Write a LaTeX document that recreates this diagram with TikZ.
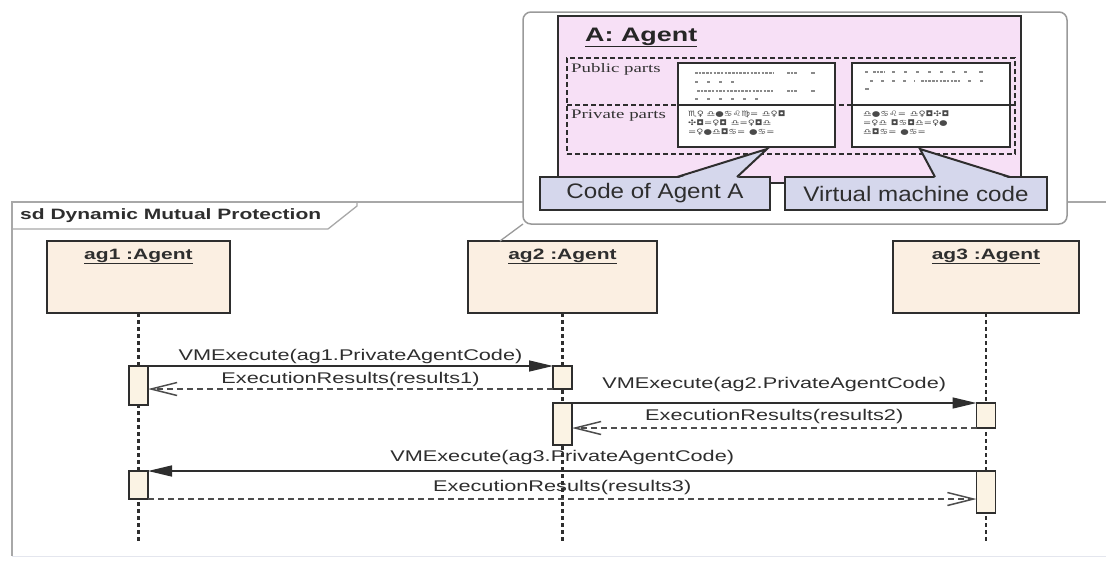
\documentclass[tikz,border=0pt]{standalone}
\usepackage{fontspec}
\setmainfont{Liberation Sans}
\newfontfamily\seqfont[FakeStretch=1.4]{Liberation Sans}
\newfontfamily\notefont[FakeStretch=1.15]{Liberation Sans}
\newfontfamily\headfont[FakeStretch=1.38]{Liberation Sans}
\newfontfamily\partfont[FakeStretch=1.45]{Liberation Serif}
\newfontfamily\glyphfont[FakeStretch=1.3]{DejaVu Sans}
\usetikzlibrary{arrows.meta}

\definecolor{inkC}{HTML}{2E2E2E}
\definecolor{agentfill}{HTML}{FBEFE2}
\definecolor{actfill}{HTML}{FBF3E4}
\definecolor{pinkfill}{HTML}{F7E0F6}
\definecolor{tagfill}{HTML}{D5D7EC}
\definecolor{framegray}{HTML}{A8A8A8}
\definecolor{edgegray}{HTML}{E4E6EE}
\definecolor{notegray}{HTML}{9A9A9A}
\definecolor{phgray}{HTML}{8A8A8A}
\definecolor{glyphgray}{HTML}{4A4A4A}

\tikzset{
  seqframe/.style={draw=framegray, line width=1.3pt},
  agentbox/.style={draw=inkC, fill=agentfill, line width=1.8pt, inner sep=0pt, outer sep=0pt, anchor=north west, minimum height=72pt},
  agentname/.style={anchor=base, font=\seqfont\bfseries\fontsize{15}{18}\selectfont, text=inkC, inner sep=0pt},
  actbox/.style={draw=inkC, fill=actfill, line width=1.5pt, inner sep=0pt, outer sep=0pt, anchor=north, minimum width=19pt},
  lifeline/.style={draw=inkC, line width=2.3pt, dash pattern=on 4pt off 3pt},
  callmsg/.style={draw=inkC, line width=1.5pt, -{Triangle[length=24pt,width=11pt]}},
  replymsg/.style={draw=inkC!85, line width=1.3pt, dash pattern=on 6pt off 4pt, -{Straight Barb[length=26pt,width=13pt,line width=1.5pt]}},
  msglabel/.style={midway, anchor=base, font=\seqfont\fontsize{15.5}{18}\selectfont, text=inkC, inner sep=0pt},
  notebox/.style={draw=notegray, fill=white, line width=1.5pt, rounded corners=8pt, inner sep=0pt, outer sep=0pt, anchor=north west},
  notelink/.style={draw=notegray, line width=1.3pt},
  pinkbox/.style={draw=inkC, fill=pinkfill, line width=2pt, inner sep=0pt, outer sep=0pt, anchor=north west},
  partsbox/.style={draw=inkC, line width=2pt, dash pattern=on 5pt off 3pt, inner sep=0pt, outer sep=0pt, anchor=north west},
  codebox/.style={draw=inkC, fill=white, line width=1.8pt, inner sep=0pt, outer sep=0pt, anchor=north west, minimum height=84pt},
  partname/.style={anchor=base west, font=\partfont\fontsize{13}{15}\selectfont, text=black!80, inner sep=0pt},
  placeholder/.style={draw=phgray, line width=1.1pt},
  glyphrow/.style={anchor=base west, font=\glyphfont\fontsize{7.5}{9}\selectfont, text=glyphgray, inner sep=0pt},
  tagbox/.style={draw=inkC, fill=tagfill, line width=2pt, inner sep=0pt, outer sep=0pt, anchor=north west, minimum height=33pt, font=\notefont\fontsize{21}{24}\selectfont, text=inkC},
  tagline/.style={draw=inkC, line width=2pt, line join=miter},
}

\begin{document}
\begin{tikzpicture}[x=1pt, y=-1pt]
\useasboundingbox (0,0) rectangle (1106,565);
\fill[white] (0,0) rectangle (1106,565);

% sequence diagram frame and its name tab
\draw[edgegray, line width=1pt] (12,556) -- (1106,556);
\draw[seqframe] (1106,202) -- (12,202) -- (12,556);
\draw[seqframe] (12,229) -- (328,229) -- (357,206) -- (357,202);
\node[anchor=base west, inner sep=0pt, font=\seqfont\bfseries\fontsize{15}{18}\selectfont, text=inkC] (title) at (20,219) {sd Dynamic Mutual Protection};

% lifeline heads
\node[agentbox, minimum width=183pt] (ag1) at (47,241) {};
\node[agentbox, minimum width=189pt] (ag2) at (468,241) {};
\node[agentbox, minimum width=186pt] (ag3) at (893,241) {};
\node[agentname] (n1) at ([yshift=-18pt]ag1.north) {\underline{ag1 :Agent}};
\node[agentname] (n2) at ([yshift=-18pt]ag2.north) {\underline{ag2 :Agent}};
\node[agentname] (n3) at ([yshift=-18pt]ag3.north) {\underline{ag3 :Agent}};

% lifelines
\coordinate (e1) at (ag1.south |- 0,543);
\coordinate (e2) at (ag2.south |- 0,543);
\coordinate (e3) at (ag3.south |- 0,543);
\draw[lifeline] (ag1) -- (e1);
\draw[lifeline] (ag2) -- (e2);
\draw[lifeline] (ag3) -- (e3);

% activation bars
\node[actbox, minimum height=39pt] (a11) at (ag1.south |- 0,366) {};
\node[actbox, minimum height=28pt] (a12) at (ag1.south |- 0,471) {};
\node[actbox, minimum height=23pt] (a21) at (ag2.south |- 0,366) {};
\node[actbox, minimum height=42pt] (a22) at (ag2.south |- 0,403) {};
\node[actbox, minimum height=25pt] (a31) at (ag3.south |- 0,403) {};
\node[actbox, minimum height=42pt] (a32) at (ag3.south |- 0,471) {};

% messages
\draw[callmsg] (a11.north east) -- node[msglabel, yshift=6pt] {VMExecute(ag1.PrivateAgentCode)} (a21.north west);
\draw[replymsg] (a21.south west) -- node[msglabel, yshift=6pt] {ExecutionResults(results1)} (a11.east |- a21.south west);
\draw[callmsg] (a22.north east) -- node[msglabel, yshift=15pt] {VMExecute(ag2.PrivateAgentCode)} (a31.north west);
\draw[replymsg] (a31.south west) -- node[msglabel, yshift=8pt] {ExecutionResults(results2)} (a22.east |- a31.south west);
\draw[callmsg] (a32.north west) -- node[msglabel, yshift=10pt] {VMExecute(ag3.PrivateAgentCode)} (a12.north east);
\draw[replymsg] (a12.south east) -- node[msglabel, yshift=8pt] {ExecutionResults(results3)} (a32.west |- a12.south east);

% note attached to ag2
\draw[notelink] ([xshift=32pt]ag2.north west) -- (523,224) coordinate (nc);
\node[notebox, minimum width=544pt, minimum height=212pt] (note) at (523,12) {};

% agent structure inside the note
\node[pinkbox, minimum width=463pt, minimum height=167pt] (A) at (558,16) {};
\node[anchor=base west, inner sep=0pt, font=\headfont\bfseries\fontsize{19.5}{22}\selectfont, text=black!85] (Aname) at (585,41) {\underline{A: Agent}};
\node[partsbox, minimum width=448pt, minimum height=96pt] (parts) at (567,58) {};
\node[codebox, minimum width=157pt] (code1) at (678,63) {};
\node[codebox, minimum width=158pt] (code2) at (852,63) {};
\draw[inkC, line width=1.8pt, dash pattern=on 5pt off 3pt] (parts.west |- 0,105) -- (parts.east |- 0,105);
\draw[inkC, line width=1.8pt] (code1.west |- 0,105) -- (code1.east |- 0,105);
\draw[inkC, line width=1.8pt] (code2.west |- 0,105) -- (parts.east |- 0,105);
\node[partname] (pub) at (571,72) {Public parts};
\node[partname] (priv) at (571,118) {Private parts};

% public part: placeholder text lines
\draw[placeholder, dash pattern=on 2.5pt off 1.2pt] (695,73) -- (773,73);
\draw[placeholder, dash pattern=on 2.5pt off 1.2pt] (787,73) -- (798,73);
\draw[placeholder] (811,73) -- (815,73);
\draw[placeholder, dash pattern=on 3pt off 9pt] (695,82) -- (735,82);
\draw[placeholder, dash pattern=on 2.5pt off 1.2pt] (697,91) -- (773,91);
\draw[placeholder, dash pattern=on 2.5pt off 1.2pt] (787,91) -- (798,91);
\draw[placeholder] (811,91) -- (815,91);
\draw[placeholder, dash pattern=on 3pt off 9pt] (695,99) -- (758,99);
\draw[placeholder] (865,72) -- (868,72);
\draw[placeholder, dash pattern=on 2.5pt off 1.2pt] (873,72) -- (885,72);
\draw[placeholder, dash pattern=on 3pt off 9pt] (892,72) -- (968,72);
\draw[placeholder] (979,72) -- (983,72);
\draw[placeholder, dash pattern=on 3pt off 8pt] (870,81) -- (915,81);
\draw[placeholder, dash pattern=on 2.5pt off 1.2pt] (921,81) -- (960,81);
\draw[placeholder, dash pattern=on 3pt off 9pt] (968,81) -- (992,81);
\draw[placeholder] (865,89) -- (869,89);

% private part: compiled code
\node[glyphrow] (g11) at (688,116) {♏♀\,\,♎●♋♌♍=\,\,\,♎♀◘};
\node[glyphrow] (g12) at (688,125) {✣◘=♀◘\,\,\,♎=♀◘♎};
\node[glyphrow] (g13) at (688,134) {=♀●♎◘♋=\,\,\,●♋=};
\node[glyphrow] (g21) at (863,116) {♎●♋♌=\,\,\,♎♀◘✣◘};
\node[glyphrow] (g22) at (863,125) {=♀♎\,\,\,◘♋◘♎=♀●};
\node[glyphrow] (g23) at (863,134) {♎◘♋=\,\,\,●♋=};

% callout tags
\node[tagbox, minimum width=230pt] (tagA) at (540,177) {Code of Agent A};
\node[tagbox, minimum width=262pt] (tagVM) at (785,177) {Virtual machine code};
\coordinate (tipA) at ([xshift=89pt,yshift=-2pt]code1.south west);
\coordinate (tipVM) at ([xshift=68pt,yshift=-2pt]code2.south west);
\fill[tagfill] ([xshift=137pt,yshift=-1.5pt]tagA.north west) -- (tipA) -- ([xshift=197pt,yshift=-1.5pt]tagA.north west) -- cycle;
\draw[tagline] ([xshift=137pt]tagA.north west) -- (tipA) -- ([xshift=197pt]tagA.north west);
\fill[tagfill] ([xshift=150pt,yshift=-1.5pt]tagVM.north west) -- (tipVM) -- ([xshift=225pt,yshift=-1.5pt]tagVM.north west) -- cycle;
\draw[tagline] ([xshift=150pt]tagVM.north west) -- (tipVM) -- ([xshift=225pt]tagVM.north west);
\end{tikzpicture}
\end{document}
